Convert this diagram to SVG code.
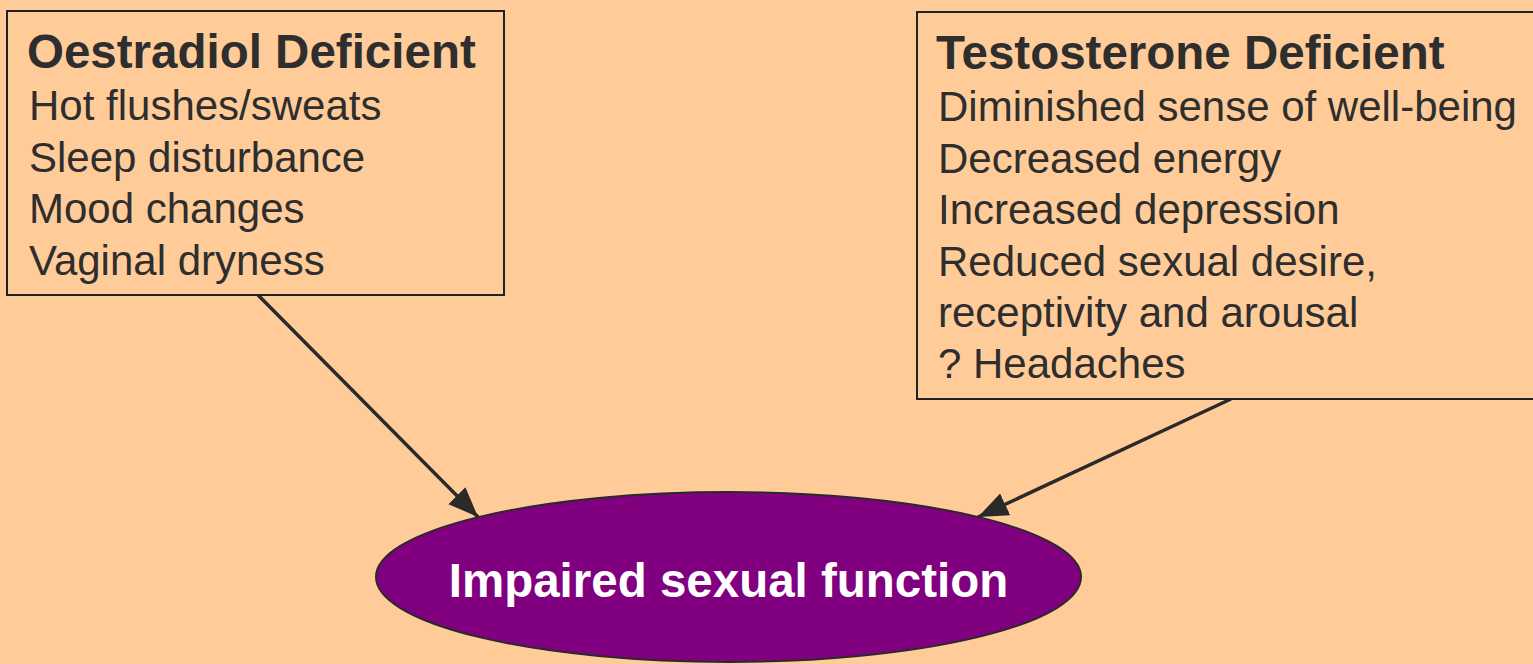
<svg xmlns="http://www.w3.org/2000/svg" width="1533" height="664" viewBox="0 0 1533 664">
<defs>
<style>
.bg{fill:#FFCC99}
.box{fill:#FFCC99;stroke:#222222;stroke-width:2}
.title{font-family:"Liberation Sans",Arial,sans-serif;font-weight:bold;font-size:47.5px;fill:#2E2E2E}
.item{font-family:"Liberation Sans",Arial,sans-serif;font-size:42px;fill:#2E2E2E}
.conn{stroke:#2A2A2A;stroke-width:3.5;fill:none}
.oval{fill:#800080;stroke:#2A2A2A;stroke-width:2}
.ovaltext{font-family:"Liberation Sans",Arial,sans-serif;font-weight:bold;font-size:47.5px;fill:#FFFFFF}
</style>
<marker id="arrow" markerUnits="userSpaceOnUse" markerWidth="34" markerHeight="28" refX="30" refY="12" orient="auto">
<path d="M0,0 L30,12 L0,24 Z" fill="#2A2A2A"/>
</marker>
</defs>
<rect class="bg" x="0" y="0" width="1533" height="664"/>
<g id="connectors">
<line class="conn" x1="258" y1="295" x2="478" y2="517" marker-end="url(#arrow)"/>
<line class="conn" x1="1231" y1="399" x2="978" y2="517" marker-end="url(#arrow)"/>
</g>
<g id="oestradiol">
<rect class="box" x="7" y="11" width="497" height="284"/>
<text class="title" x="27" y="68">Oestradiol Deficient</text>
<text class="item" x="29" y="120">Hot flushes/sweats</text>
<text class="item" x="29" y="172">Sleep disturbance</text>
<text class="item" x="29" y="223">Mood changes</text>
<text class="item" x="29" y="275">Vaginal dryness</text>
</g>
<g id="testosterone">
<rect class="box" x="917" y="12" width="630" height="387"/>
<text class="title" x="936" y="69">Testosterone Deficient</text>
<text class="item" x="938" y="121">Diminished sense of well-being</text>
<text class="item" x="938" y="173">Decreased energy</text>
<text class="item" x="938" y="224">Increased depression</text>
<text class="item" x="938" y="276">Reduced sexual desire,</text>
<text class="item" x="938" y="327">receptivity and arousal</text>
<text class="item" x="938" y="378">? Headaches</text>
</g>
<g id="impaired">
<ellipse class="oval" cx="728.5" cy="577" rx="352.5" ry="85"/>
<text class="ovaltext" x="728.5" y="597" text-anchor="middle">Impaired sexual function</text>
</g>
</svg>
